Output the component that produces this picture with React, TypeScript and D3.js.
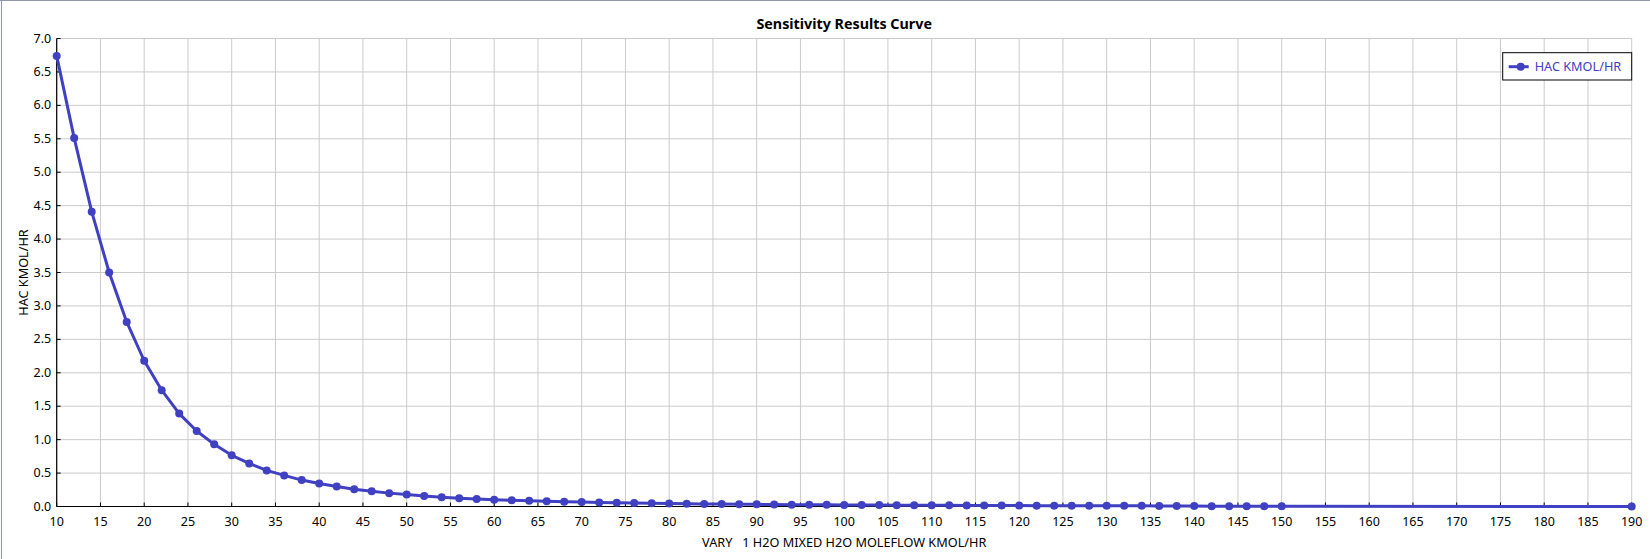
import * as d3 from 'd3';

// sensitivity run: HAC flow vs. H2O mixed feed flow
const h2oFlow = [
  10, 12, 14, 16, 18, 20, 22, 24, 26, 28, 30, 32, 34, 36, 38, 40, 42, 44, 46, 48,
  50, 52, 54, 56, 58, 60, 62, 64, 66, 68, 70, 72, 74, 76, 78, 80, 82, 84, 86, 88,
  90, 92, 94, 96, 98, 100, 102, 104, 106, 108, 110, 112, 114, 116, 118, 120, 122, 124, 126, 128,
  130, 132, 134, 136, 138, 140, 142, 144, 146, 148, 150, 190,
];
const hacFlow = [
  6.74, 5.51, 4.41, 3.5, 2.76, 2.18, 1.74, 1.39, 1.13, 0.93, 0.765, 0.645, 0.54, 0.465, 0.395, 0.345, 0.3, 0.258, 0.228, 0.2,
  0.18, 0.158, 0.14, 0.125, 0.113, 0.102, 0.093, 0.085, 0.078, 0.072, 0.066, 0.061, 0.057, 0.052, 0.049, 0.045, 0.042, 0.039, 0.037, 0.034,
  0.032, 0.03, 0.028, 0.027, 0.025, 0.023, 0.022, 0.021, 0.02, 0.019, 0.018, 0.017, 0.016, 0.015, 0.015, 0.014, 0.013, 0.013, 0.012, 0.011,
  0.011, 0.01, 0.01, 0.009, 0.009, 0.009, 0.004, 0.004, 0.003, 0.003, 0.003, 0,
];
const xTicks = d3.range(10, 191, 5);
const yTicks = d3.range(0, 7.01, 0.5);

const chartTitle = 'Sensitivity Results Curve';
const xTitle = 'VARY   1 H2O MIXED H2O MOLEFLOW KMOL/HR';
const yTitle = 'HAC KMOL/HR';
const seriesName = 'HAC KMOL/HR';

const W = 1650;
const H = 559;
const margin = { top: 38.5, right: 18.3, bottom: 52.5, left: 56.7 };
const lineColor = '#4040c2';
const gridColor = '#cbcbcb';
const font = '"Segoe UI", "Noto Sans", "Open Sans", sans-serif';

export default function App() {
  const x = d3.scaleLinear().domain([10, 190]).range([margin.left, W - margin.right]);
  const y = d3.scaleLinear().domain([0, 7]).range([H - margin.bottom, margin.top]);
  const pts: [number, number][] = h2oFlow.map((v, i) => [v, hacFlow[i]]);
  const line = d3.line<[number, number]>().x(d => x(d[0])).y(d => y(d[1]));

  const [x0, x1] = x.range();
  const [yb, yt] = y.range();
  const midX = (x0 + x1) / 2;

  // legend box, right aligned to plot edge
  const lg = { x: x1 - 129, y: 52.7, w: 129, h: 27.3 };

  return (
    <svg
      width={W}
      height={H}
      style={{ position: 'absolute', left: 0, top: 0, background: '#fff', fontFamily: font }}
    >
      {/* outer frame (top / left only visible) */}
      <line x1={0} x2={W} y1={0.5} y2={0.5} stroke="#8e97a5" />
      <line x1={1.5} x2={1.5} y1={0} y2={H} stroke="#8e97a5" />

      <text x={midX} y={29} textAnchor="middle" fontSize={14.3} fontWeight="bold" fill="#000">
        {chartTitle}
      </text>

      {/* grid */}
      {xTicks.map(t => (
        <line key={'gx' + t} x1={x(t)} x2={x(t)} y1={yt} y2={yb} stroke={gridColor} strokeWidth={1} />
      ))}
      {yTicks.map(t => (
        <line key={'gy' + t} x1={x0} x2={x1} y1={y(t)} y2={y(t)} stroke={gridColor} strokeWidth={1} />
      ))}

      {/* axes */}
      <line x1={x0} x2={x0} y1={yt} y2={yb} stroke="#000" strokeWidth={1.2} />
      <line x1={x0} x2={x1} y1={yb} y2={yb} stroke="#000" strokeWidth={1.2} />
      {xTicks.map(t => (
        <g key={'tx' + t}>
          <line x1={x(t)} x2={x(t)} y1={yb} y2={yb - 4} stroke="#000" />
          <text x={x(t)} y={yb + 19} textAnchor="middle" fontSize={12.5} fill="#000">
            {t}
          </text>
        </g>
      ))}
      {yTicks.map(t => (
        <g key={'ty' + t}>
          <line x1={x0} x2={x0 + 4} y1={y(t)} y2={y(t)} stroke="#000" />
          <text x={x0 - 5.5} y={y(t) + 4} textAnchor="end" fontSize={12.5} fill="#000">
            {t.toFixed(1)}
          </text>
        </g>
      ))}

      <text x={midX} y={546.5} textAnchor="middle" fontSize={12.7} fill="#000" style={{ whiteSpace: 'pre' }}>
        {xTitle}
      </text>
      <text
        transform={`translate(28,${(yt + yb) / 2}) rotate(-90)`}
        textAnchor="middle"
        fontSize={12.7}
        fill="#000"
      >
        {yTitle}
      </text>

      {/* series */}
      <path d={line(pts) || ''} fill="none" stroke={lineColor} strokeWidth={3} strokeLinejoin="round" />
      {pts.map(d => (
        <circle key={'p' + d[0]} cx={x(d[0])} cy={y(d[1])} r={4} fill={lineColor} />
      ))}

      {/* legend */}
      <rect x={lg.x} y={lg.y} width={lg.w} height={lg.h} fill="#fff" stroke="#000" strokeWidth={1} />
      <line x1={lg.x + 6} x2={lg.x + 26} y1={lg.y + 14} y2={lg.y + 14} stroke={lineColor} strokeWidth={3} />
      <circle cx={lg.x + 18} cy={lg.y + 14} r={4} fill={lineColor} />
      <text x={lg.x + 32} y={lg.y + 18.5} fontSize={12.7} fill={lineColor}>
        {seriesName}
      </text>
    </svg>
  );
}
